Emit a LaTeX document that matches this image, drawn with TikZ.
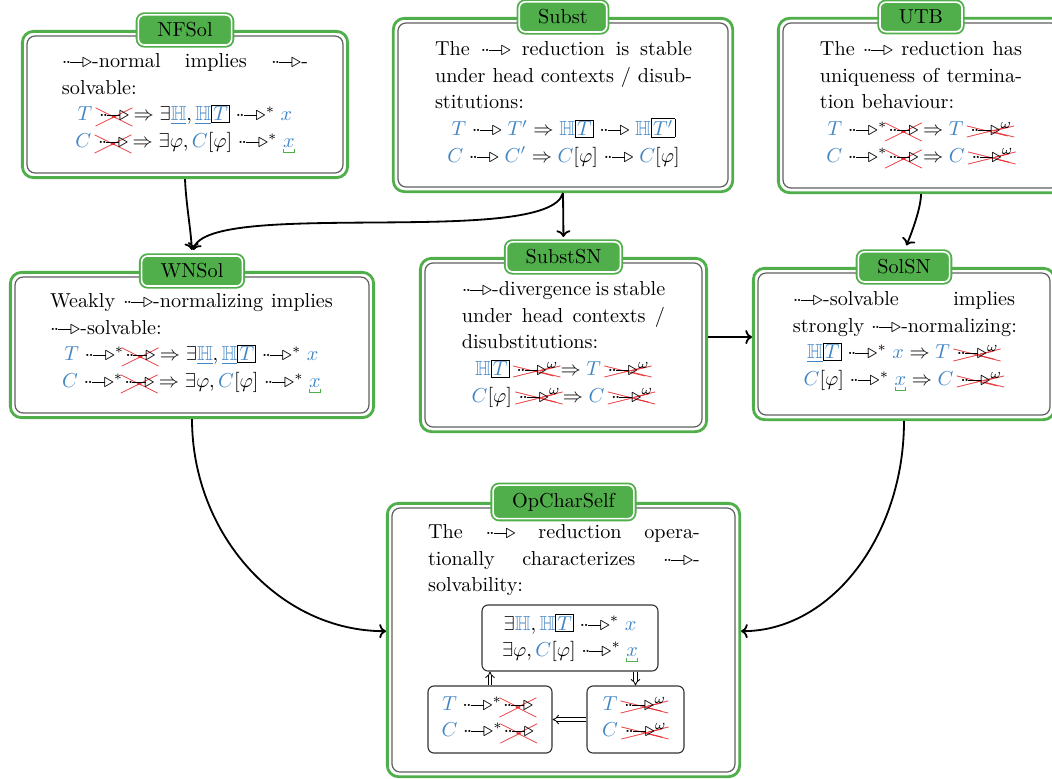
\documentclass[tikz,border=0pt]{standalone}
\usepackage{amsmath,amssymb}
\usepackage{pict2e}
\usepackage{cancel}
\usetikzlibrary{arrows.meta,fit,calc}
\definecolor{cb}{RGB}{66,133,196}
\definecolor{cg}{RGB}{80,175,75}
\definecolor{cr}{RGB}{230,30,35}
\definecolor{cgray}{RGB}{95,95,95}
\renewcommand{\CancelColor}{\color{cr}\linethickness{0.7pt}}
\newcommand\rd{\mathrel{{\cdot}\mkern-1.8mu{\cdot}\mkern-1mu\rule[2.28pt]{6.5pt}{0.45pt}\mkern-1mu{\triangleright}}}
\newcommand\nrd{\mathrel{\xcancel{\mkern1mu\smash{\rd}\mkern1mu\rule[-2.5pt]{0pt}{8pt}}\mkern3mu}}
\newcommand\nrdw{\mathrel{\xcancel{\mkern1mu\smash{\rd^{\omega}}\rule[-2.5pt]{0pt}{8.3pt}}\mkern2mu}}
\newcommand\BT{{\color{cb}T}}
\newcommand\BTp{{\color{cb}T'}}
\newcommand\BC{{\color{cb}C}}
\newcommand\BCp{{\color{cb}C'}}
\newcommand\BX{{\color{cb}x}}
\newcommand\bH{{\color{cb}\mathbb{H}}}
\newcommand\uH{{\color{cb}\underline{\mathbb{H}}}}
\newcommand\bx[1]{\mbox{\fboxsep=0.6pt\fboxrule=0.45pt\fbox{$\color{cb}#1$}}}
\newcommand\ux{\mathord{\vtop{\offinterlineskip\hbox{$\color{cb}x$}\kern1pt\hbox{\color{cg}\vrule width0.45pt height1.8pt\vrule height0.45pt width4.8pt\vrule width0.45pt height1.8pt}}}}
\newcommand\jl[2]{\makebox[#1][s]{#2}}
\newcommand\lj[2]{\makebox[#1][l]{#2}}
\newcommand\ml[2]{\makebox[#1][c]{$#2$}}
\begin{document}
\begin{tikzpicture}[x=0.495pt,y=-0.495pt,
 gbox/.style={draw=cgray,line width=0.6pt,rounded corners=4pt,inner sep=0pt},
 gframe/.style={draw=cg,line width=1.4pt,rounded corners=5.5pt,inner sep=2pt},
 tabn/.style={draw=cg,double=white,double distance=0.8pt,line width=0.9pt,fill=cg,rounded corners=3pt,inner xsep=9.4pt,inner ysep=3.8pt,text=black},
 txt/.style={inner sep=0pt,anchor=north,align=left,font=\fontsize{10pt}{13.2pt}\selectfont},
 ibox/.style={draw=black!80,line width=0.55pt,rounded corners=3pt,inner sep=0pt,align=center,font=\fontsize{10pt}{12.9pt}\selectfont},
 conn/.style={line width=0.9pt,-{To[length=3.3pt,width=7pt]}},
 dimp/.style={double,double distance=1.2pt,line width=0.4pt,-{Implies}}]

\useasboundingbox (0,0) rectangle (1052,778);
\clip (0,0) rectangle (1052,778);

% NFSol
\node[gbox,minimum width=156.4pt,minimum height=67.8pt] (nfB) at (185,104.5) {};
\node[gframe,fit=(nfB)] (nfF) {};
\node[tabn] (nfT) at (nfF.north) {NFSol};
\node[txt] (nfX) at (185,53) {\jl{121.8pt}{$\rd$-normal implies $\rd$-}\\
\lj{121.8pt}{solvable:}\\
\ml{121.8pt}{\BT\nrd\Rightarrow\exists\uH,\uH\bx{T}\rd^*\BX}\\
\ml{121.8pt}{\BC\nrd\Rightarrow\exists\varphi,\BC[\varphi]\rd^*\ux}};

% Subst
\node[gbox,minimum width=163.4pt,minimum height=81.2pt] (suB) at (563,105) {};
\node[gframe,fit=(suB)] (suF) {};
\node[tabn] (suT) at (suF.north) {Subst};
\node[txt] (suX) at (563.5,41) {\jl{127.2pt}{The $\rd$ reduction is stable}\\
\jl{127.2pt}{under head contexts / disub-}\\
\lj{127.2pt}{stitutions:}\\
\ml{127.2pt}{\BT\rd\BTp\Rightarrow\bH\bx{T}\rd\bH\bx{T'}}\\
\ml{127.2pt}{\BC\rd\BCp\Rightarrow\BC[\varphi]\rd\BC[\varphi]}};

% UTB
\node[gbox,minimum width=136.6pt,minimum height=81.7pt] (utB) at (921,105.5) {};
\node[gframe,fit=(utB)] (utF) {};
\node[tabn] (utT) at (utF.north) {UTB};
\node[txt] (utX) at (921,41) {\jl{100pt}{The $\rd$ reduction has}\\
\jl{100pt}{uniqueness of termina-}\\
\lj{100pt}{tion behaviour:}\\
\ml{100pt}{\BT\rd^*\nrd\Rightarrow\BT\nrdw}\\
\ml{100pt}{\BC\rd^*\nrd\Rightarrow\BC\nrdw}};

% WNSol
\node[gbox,minimum width=175.2pt,minimum height=67.3pt] (wnB) at (192,345) {};
\node[gframe,fit=(wnB)] (wnF) {};
\node[tabn] (wnT) at (wnF.north) {WNSol};
\node[txt] (wnX) at (191.5,293) {\jl{140pt}{Weakly $\rd$-normalizing implies}\\
\lj{140pt}{$\rd$-solvable:}\\
\ml{140pt}{\BT\rd^*\nrd\Rightarrow\exists\uH,\uH\bx{T}\rd^*\BX}\\
\ml{140pt}{\BC\rd^*\nrd\Rightarrow\exists\varphi,\BC[\varphi]\rd^*\ux}};

% SubstSN
\node[gbox,minimum width=137.1pt,minimum height=81.2pt] (ssB) at (563.5,345) {};
\node[gframe,fit=(ssB)] (ssF) {};
\node[tabn] (ssT) at (ssF.north) {SubstSN};
\node[txt] (ssX) at (563.5,281) {\jl{100.5pt}{$\rd$-divergence is stable}\\
\jl{100.5pt}{under head contexts /}\\
\lj{100.5pt}{disubstitutions:}\\
\ml{100.5pt}{\bH\bx{T}\nrdw\Rightarrow\BT\nrdw}\\
\ml{100.5pt}{\BC[\varphi]\nrdw\Rightarrow\BC\nrdw}};

% SolSN
\node[gbox,minimum width=144.5pt,minimum height=70.3pt] (slB) at (904,344) {};
\node[gframe,fit=(slB)] (slF) {};
\node[tabn] (slT) at (slF.north) {SolSN};
\node[txt] (slX) at (904,291) {\jl{110pt}{$\rd$-solvable implies}\\
\lj{110pt}{strongly $\rd$-normalizing:}\\
\ml{110pt}{\uH\bx{T}\rd^*\BX\Rightarrow\BT\nrdw}\\
\ml{110pt}{\BC[\varphi]\rd^*\ux\Rightarrow\BC\nrdw}};

% OpCharSelf
\node[gbox,minimum width=169.8pt,minimum height=130.7pt] (opB) at (563.5,640) {};
\node[gframe,fit=(opB)] (opF) {};
\node[tabn] (opT) at (opF.north) {OpCharSelf};
\node[txt] (opX) at (564,524) {\jl{134.6pt}{The $\rd$ reduction opera-}\\
\jl{134.6pt}{tionally characterizes $\rd$-}\\
\lj{134.6pt}{solvability:}};

\node[ibox,minimum width=87.1pt,minimum height=32.7pt] (iA) at (570,638) {$\exists\bH,\bH\bx{T}\rd^*\BX$\\$\exists\varphi,\BC[\varphi]\rd^*\ux$};
\node[ibox,minimum width=61.4pt,minimum height=33.2pt] (iB) at (490,719.5) {$\BT\rd^*\nrd$\\$\BC\rd^*\nrd$};
\node[ibox,minimum width=48pt,minimum height=33.2pt] (iC) at (635.5,719.5) {$\BT\nrdw$\\$\BC\nrdw$};
\draw[dimp] (iB.north) -- (iB.north |- iA.south);
\draw[dimp] (iC.north |- iA.south) -- (iC.north);
\draw[dimp] (iC.west) -- (iB.east);

% connectors
\draw[conn,shorten >=2.5pt] (nfF.south) .. controls +(1,25) and +(-1,-25) .. (wnT.north);
\draw[conn,shorten >=2.5pt] (suF.south) .. controls +(-15,55) and +(15,-57) .. (wnT.north);
\draw[conn,shorten >=2pt] (suF.south) -- (ssT.north);
\draw[conn,shorten >=3pt] (utF.south) .. controls +(0,15) and +(6,-14) .. (slT.north);
\coordinate (ssC) at ($(ssT.north)!0.5!(ssF.south)$);
\draw[conn] (ssF.east |- ssC) -- (slF.west |- ssC);
\coordinate (opC) at ($(opT.north)!0.5!(opF.south)$);
\draw[conn] (wnF.south) .. controls +(0,115) and +(-107,0) .. (opF.west |- opC);
\draw[conn] (slF.south) .. controls +(0,115) and +(90,0) .. (opF.east |- opC);
\end{tikzpicture}
\end{document}
